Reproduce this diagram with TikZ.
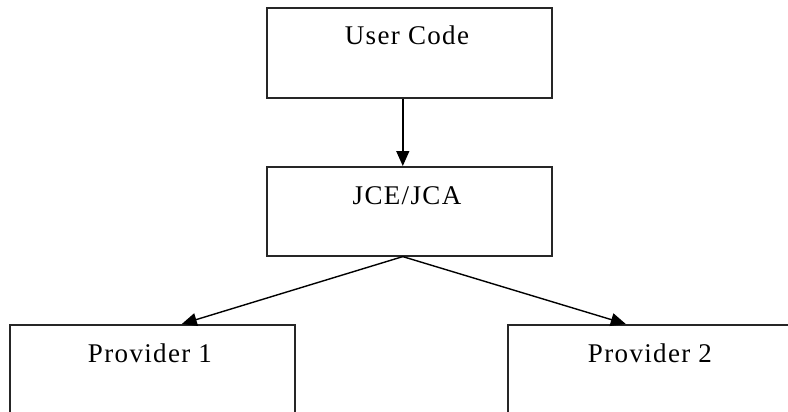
\documentclass[tikz,border=0pt]{standalone}
\usepackage{fontspec}
\setmainfont{Liberation Serif}[LetterSpace=5]
\usetikzlibrary{arrows.meta}
\begin{document}
\begin{tikzpicture}[x=1pt,y=-1pt,
  box/.style={draw=black!85, line width=1.6pt, rectangle, inner sep=0pt, anchor=north west},
  lbl/.style={font=\fontsize{27}{30}\selectfont, inner sep=0pt, anchor=center},
  conn/.style={line width=1.4pt, -{Triangle[length=15pt,width=13pt]}}]
\useasboundingbox (0,0) rectangle (788,412);
\fill[white] (0,0) rectangle (788,412);
\clip (0,0) rectangle (788,412);
\node[box, minimum width=285pt, minimum height=90pt] (user) at (266,7) {};
\node[box, minimum width=285pt, minimum height=89pt] (jce) at (266,166) {};
\node[box, minimum width=285pt, minimum height=150pt] (p1) at (9,324) {};
\node[box, minimum width=300pt, minimum height=150pt] (p2) at (507,324) {};
\node[lbl] (tuser) at (407,35) {User Code};
\node[lbl] (tjce) at (407,196) {JCE/JCA};
\node[lbl] (tp1) at (150,353) {Provider 1};
\node[lbl] (tp2) at (650,353) {Provider 2};
\draw[conn] ([xshift=-6.5pt]user.south) -- ([xshift=-6.5pt]jce.north);
\draw[conn] ([xshift=-6.5pt]jce.south) -- ([xshift=29.5pt]p1.north);
\draw[conn] ([xshift=-6.5pt]jce.south) -- ([xshift=-32pt]p2.north);
\end{tikzpicture}
\end{document}
